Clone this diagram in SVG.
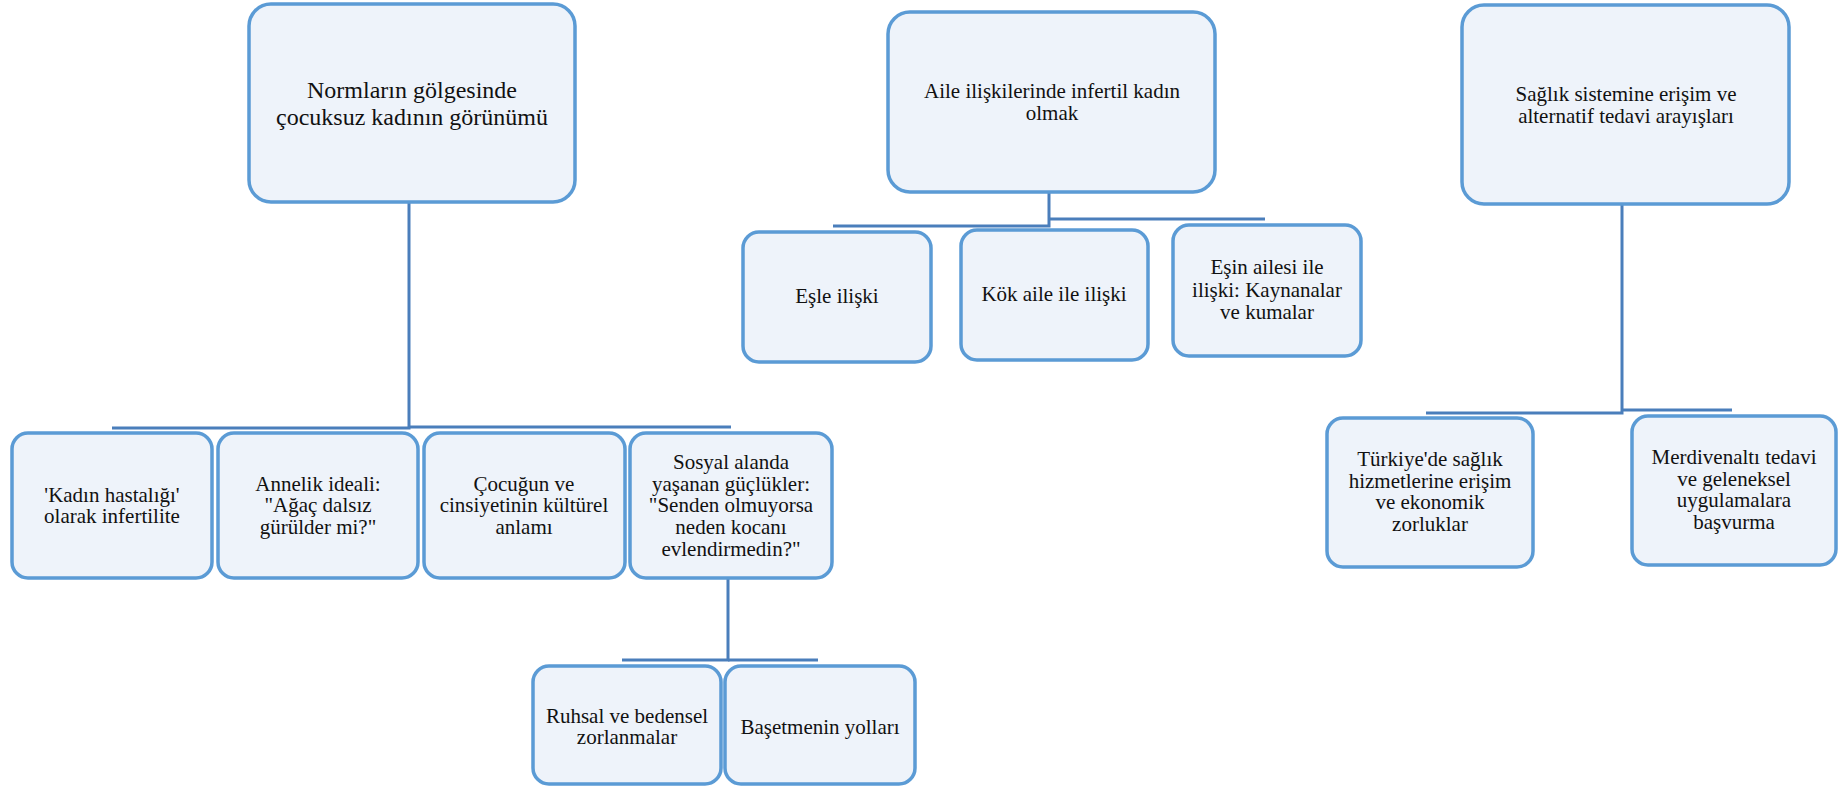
<svg xmlns="http://www.w3.org/2000/svg" width="1838" height="786" viewBox="0 0 1838 786">
<style>
.box{fill:#EEF3FA;stroke:#5B9BD5;stroke-width:3.5}
.conn{fill:none;stroke:#4A7EBB;stroke-width:3}
.t text{font-family:'Liberation Serif','DejaVu Serif',serif;font-size:21px;fill:#111;text-anchor:middle}
.t .big{font-size:24px}
</style>
<rect width="1838" height="786" fill="#fff"/>
<g id="connectors">
<path class="conn" d="M409,202 V428 H112"/>
<path class="conn" d="M409,427 H731"/>
<path class="conn" d="M1049,192 V226 H833"/>
<path class="conn" d="M1049,219 H1265"/>
<path class="conn" d="M1622,204 V413 H1426"/>
<path class="conn" d="M1622,410 H1732"/>
<path class="conn" d="M728,578 V660 H622"/>
<path class="conn" d="M728,660 H818"/>
</g>
<g class="t" font-family="Liberation Serif, serif">
<g id="n1"><rect class="box" x="249" y="4" width="326" height="198" rx="22"/>
<text class="big" x="412" y="98">Normların gölgesinde</text><text class="big" x="412" y="125">çocuksuz kadının görünümü</text></g>
<g id="n2"><rect class="box" x="888" y="12" width="327" height="180" rx="22"/>
<text x="1052" y="98">Aile ilişkilerinde infertil kadın</text><text x="1052" y="120">olmak</text></g>
<g id="n3"><rect class="box" x="1462" y="5" width="327" height="199" rx="22"/>
<text x="1626" y="101">Sağlık sistemine erişim ve</text><text x="1626" y="123">alternatif tedavi arayışları</text></g>
<g id="n4"><rect class="box" x="12" y="433" width="200" height="145" rx="16"/>
<text x="112" y="502">'Kadın hastalığı'</text><text x="112" y="523">olarak infertilite</text></g>
<g id="n5"><rect class="box" x="218" y="433" width="200" height="145" rx="16"/>
<text x="318" y="491">Annelik ideali:</text><text x="318" y="512">"Ağaç dalsız</text><text x="318" y="534">gürülder mi?"</text></g>
<g id="n6"><rect class="box" x="424" y="433" width="201" height="145" rx="16"/>
<text x="524" y="491">Çocuğun ve</text><text x="524" y="512">cinsiyetinin kültürel</text><text x="524" y="534">anlamı</text></g>
<g id="n7"><rect class="box" x="630" y="433" width="202" height="145" rx="16"/>
<text x="731" y="469">Sosyal alanda</text><text x="731" y="491">yaşanan güçlükler:</text><text x="731" y="512">"Senden olmuyorsa</text><text x="731" y="534">neden kocanı</text><text x="731" y="556">evlendirmedin?"</text></g>
<g id="n8"><rect class="box" x="743" y="232" width="188" height="130" rx="16"/>
<text x="837" y="303">Eşle ilişki</text></g>
<g id="n9"><rect class="box" x="961" y="230" width="187" height="130" rx="16"/>
<text x="1054" y="301">Kök aile ile ilişki</text></g>
<g id="n10"><rect class="box" x="1173" y="225" width="188" height="131" rx="16"/>
<text x="1267" y="274">Eşin ailesi ile</text><text x="1267" y="297">ilişki: Kaynanalar</text><text x="1267" y="319">ve kumalar</text></g>
<g id="n11"><rect class="box" x="1327" y="418" width="206" height="149" rx="16"/>
<text x="1430" y="466">Türkiye'de sağlık</text><text x="1430" y="488">hizmetlerine erişim</text><text x="1430" y="509">ve ekonomik</text><text x="1430" y="531">zorluklar</text></g>
<g id="n12"><rect class="box" x="1632" y="416" width="204" height="149" rx="16"/>
<text x="1734" y="464">Merdivenaltı tedavi</text><text x="1734" y="486">ve geleneksel</text><text x="1734" y="507">uygulamalara</text><text x="1734" y="529">başvurma</text></g>
<g id="n13"><rect class="box" x="533" y="666" width="188" height="118" rx="16"/>
<text x="627" y="723">Ruhsal ve bedensel</text><text x="627" y="744">zorlanmalar</text></g>
<g id="n14"><rect class="box" x="725" y="666" width="190" height="118" rx="16"/>
<text x="820" y="734">Başetmenin yolları</text></g>
</g>
</svg>
